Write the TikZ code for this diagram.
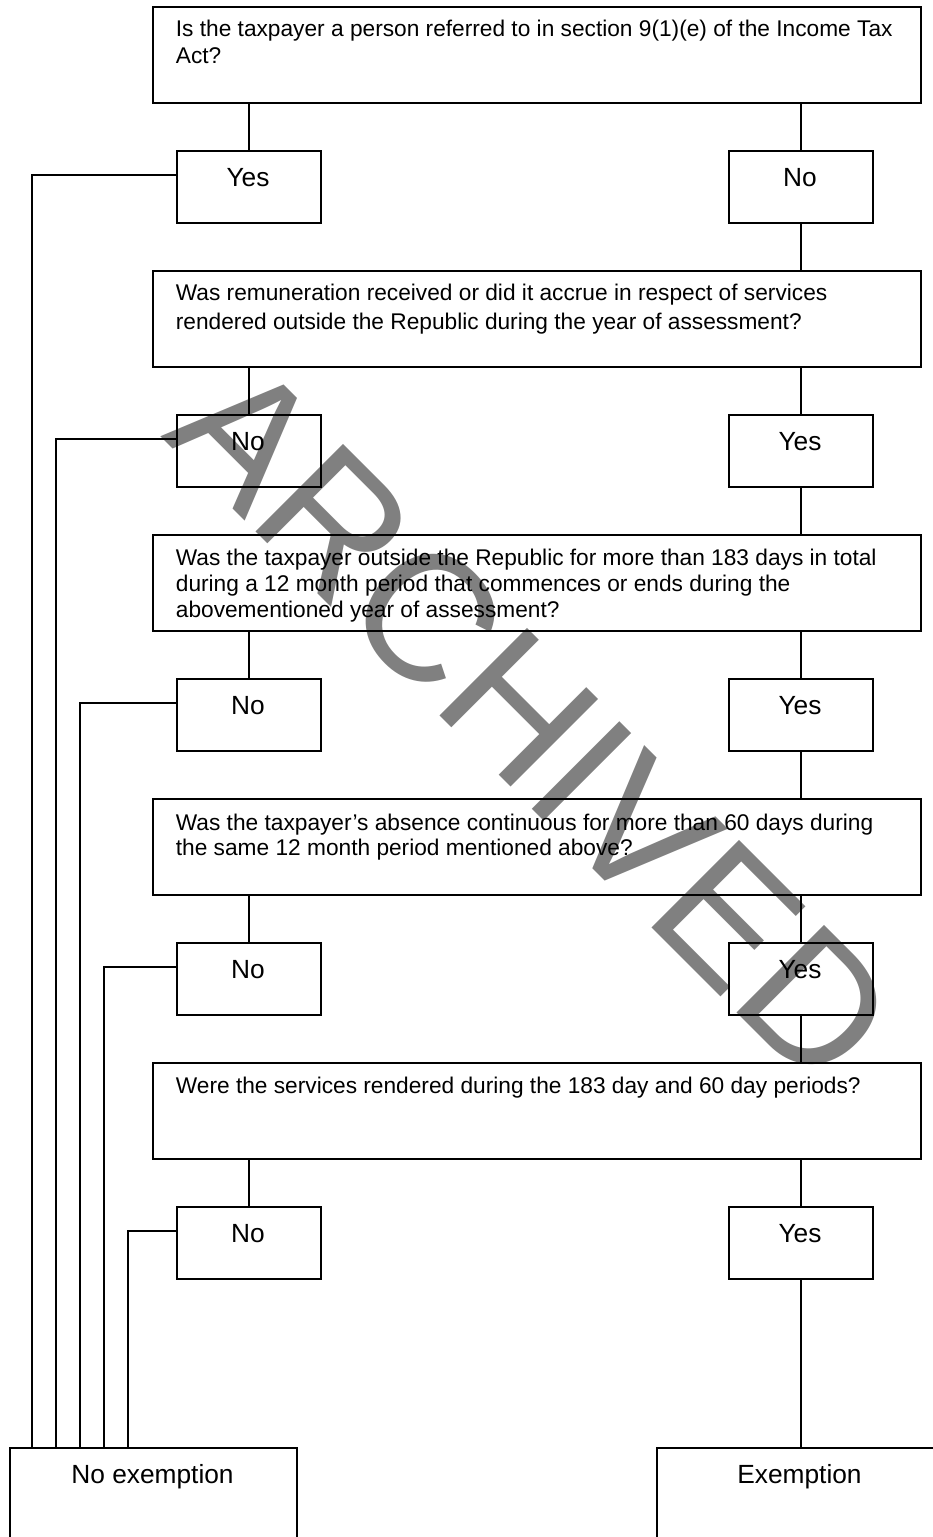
\documentclass[tikz,border=0pt]{standalone}
\usepackage{fontspec}
\setmainfont{Liberation Sans}
\definecolor{wmgray}{RGB}{128,128,128}
\begin{document}
\begin{tikzpicture}[x=1pt,y=-1pt,line width=1.8pt,
  qbox/.style={draw,minimum width=768pt,minimum height=96pt,inner sep=0pt,anchor=north west},
  abox/.style={draw,minimum width=144pt,minimum height=72pt,inner sep=0pt,anchor=north west},
  endbox/.style={draw,minimum width=287pt,minimum height=130pt,inner sep=0pt,anchor=north west},
  qtext/.style={anchor=base west,inner sep=0pt},
  atext/.style={anchor=base,inner sep=0pt,font=\fontsize{26.3}{30}\selectfont},
  wm/.style={inner sep=0pt,text=wmgray,rotate=-45,font=\fontsize{180}{180}\selectfont}]
\useasboundingbox (0,0) rectangle (933,1537);
\clip (0,0) rectangle (933,1537);
% watermark
\node[wm] (wmark) at (533,722) {ARCHIVED};
% question boxes
\node[qbox] (q1) at (152,6) {};
\node[qbox] (q2) at (152,270) {};
\node[qbox] (q3) at (152,534) {};
\node[qbox] (q4) at (152,798) {};
\node[qbox] (q5) at (152,1062) {};
\node[qtext,font=\fontsize{22.7}{27}\selectfont] (q1t) at (175,36) {\parbox[t]{740pt}{Is the taxpayer a person referred to in section 9(1)(e) of the Income Tax\\Act?}};
\node[qtext,font=\fontsize{22.7}{29}\selectfont] (q2t) at (175,300) {\parbox[t]{740pt}{Was remuneration received or did it accrue in respect of services\\rendered outside the Republic during the year of assessment?}};
\node[qtext,font=\fontsize{22.7}{26}\selectfont] (q3t) at (175,565) {\parbox[t]{740pt}{Was the taxpayer outside the Republic for more than 183 days in total\\during a 12 month period that commences or ends during the\\abovementioned year of assessment?}};
\node[qtext,font=\fontsize{22.7}{25}\selectfont] (q4t) at (175,830) {\parbox[t]{740pt}{Was the taxpayer’s absence continuous for more than 60 days during\\the same 12 month period mentioned above?}};
\node[qtext,font=\fontsize{22.7}{25}\selectfont] (q5t) at (175,1093) {\parbox[t]{740pt}{Were the services rendered during the 183 day and 60 day periods?}};
% answer boxes
\foreach \i/\y in {1/150,2/414,3/678,4/942,5/1206}{
  \node[abox] (l\i) at (176,\y) {};
  \node[abox] (r\i) at (728,\y) {};
}
\node[atext] (l1t) at (248,186) {Yes};
\node[atext] (r1t) at (800,186) {No};
\node[atext] (l2t) at (248,450) {No};
\node[atext] (r2t) at (800,450) {Yes};
\node[atext] (l3t) at (248,714) {No};
\node[atext] (r3t) at (800,714) {Yes};
\node[atext] (l4t) at (248,978) {No};
\node[atext] (r4t) at (800,978) {Yes};
\node[atext] (l5t) at (248,1242) {No};
\node[atext] (r5t) at (800,1242) {Yes};
% end boxes
\node[endbox] (noex) at (9,1447) {};
\node[endbox] (ex) at (656,1447) {};
\node[atext] (noext) at (152.5,1483) {No exemption};
\node[atext] (ext) at (799.5,1483) {Exemption};
% connectors
\foreach \i in {1,...,5}{
  \draw (l\i.north |- q\i.south) -- (l\i.north);
  \draw (r\i.north |- q\i.south) -- (r\i.north);
}
\foreach \i/\j in {1/2,2/3,3/4,4/5}{
  \draw (r\i.south) -- (r\i.south |- q\j.north);
}
\draw (r5.south) -- (r5.south |- ex.north);
% wires to "No exemption"
\foreach \i/\x in {1/32,2/56,3/80,4/104,5/128}{
  \coordinate (w\i) at (\x,1447);
  \draw ([yshift=-25pt]l\i.north west) -| (w\i |- noex.north);
}
\end{tikzpicture}
\end{document}
